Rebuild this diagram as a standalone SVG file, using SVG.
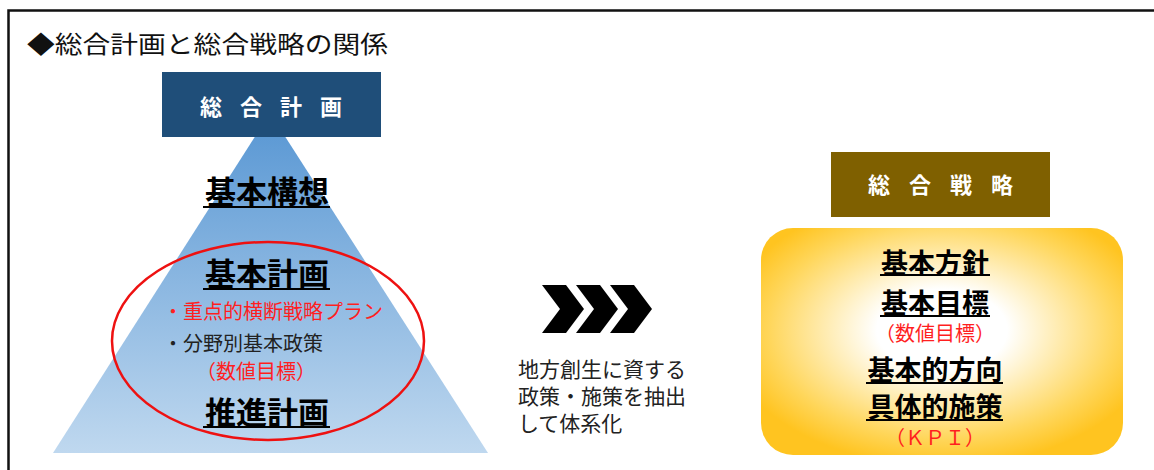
<svg xmlns="http://www.w3.org/2000/svg" width="1154" height="470" viewBox="0 0 1154 470">
<defs>
<style>
text{font-family:"Noto Sans CJK JP","Noto Sans",sans-serif;dominant-baseline:central}
.h{font-size:31px;font-weight:700;fill:#000;text-anchor:middle}
.h2{font-size:27px;font-weight:700;fill:#000;text-anchor:middle}
.s{font-size:20px;fill:#222}
.r{fill:#ff1f1f}
.w{font-size:22px;font-weight:700;fill:#fff;text-anchor:middle}
.ul{stroke:#000;stroke-width:2}
</style>
<linearGradient id="pyr" x1="0" y1="0" x2="0" y2="1">
<stop offset="0" stop-color="#5796d3"/>
<stop offset="1" stop-color="#bfd8ef"/>
</linearGradient>
<radialGradient id="glow" cx="0.5" cy="0.45" r="0.6">
<stop offset="0" stop-color="#ffffff"/>
<stop offset="0.3" stop-color="#ffffff"/>
<stop offset="0.8" stop-color="#ffd65a"/>
<stop offset="1" stop-color="#ffc420"/>
</radialGradient>
<polygon id="chev" points="0,0 24,0 42,24 24,48 0,48 18,24"/>
</defs>
<rect width="1154" height="470" fill="#fff"/>
<path d="M8.5,480 V10.5 H1170" fill="none" stroke="#111" stroke-width="2.5"/>
<text x="27" y="42" font-size="24" fill="#111" textLength="361" lengthAdjust="spacingAndGlyphs">◆総合計画と総合戦略の関係</text>

<g id="pyramid">
<polygon points="270,113 488,453 53,453" fill="url(#pyr)"/>
</g>
<g id="plan-header">
<rect x="162" y="72" width="219" height="65" fill="#1f4e79"/>
<text class="w" x="211,251,291,331" y="105">総合計画</text>
</g>
<g id="kihon-koso">
<text class="h" x="267" y="189">基本構想</text>
<line class="ul" x1="203" y1="207" x2="330" y2="207"/>
</g>
<g id="kihon-keikaku">
<text class="h" x="267" y="271">基本計画</text>
<line class="ul" x1="203" y1="289" x2="330" y2="289"/>
<text class="s r" x="163" y="310">・重点的横断戦略プラン</text>
<text class="s" x="163" y="342">・分野別基本政策</text>
<text class="s r" x="196" y="370" font-size="19">（数値目標）</text>
</g>
<g id="suishin-keikaku">
<text class="h" x="267" y="410">推進計画</text>
<line class="ul" x1="203" y1="427" x2="330" y2="427"/>
</g>
<g id="ellipse">
<ellipse cx="268" cy="341" rx="156" ry="99" fill="none" stroke="#ee1111" stroke-width="2.5"/>
</g>

<g id="connectors">
<use href="#chev" x="542" y="285" fill="#000"/>
<use href="#chev" x="576" y="285" fill="#000"/>
<use href="#chev" x="610" y="285" fill="#000"/>
</g>
<g id="arrow-label">
<text x="518" y="368" font-size="21" fill="#222">地方創生に資する</text>
<text x="518" y="395" font-size="21" fill="#222">政策・施策を抽出</text>
<text x="518" y="422" font-size="21" fill="#222">して体系化</text>
</g>

<g id="strategy-header">
<rect x="831" y="152" width="219" height="65" fill="#7f6000"/>
<text class="w" x="879,920,961,1002" y="183">総合戦略</text>
</g>
<g id="strategy-box">
<rect x="761" y="228" width="362" height="227" rx="32" fill="url(#glow)"/>
<text class="h2" x="935" y="261">基本方針</text>
<line class="ul" x1="880" y1="275" x2="990" y2="275"/>
<text class="h2" x="935" y="301">基本目標</text>
<line class="ul" x1="880" y1="316" x2="990" y2="316"/>
<text class="s r" x="935" y="332" font-size="19" text-anchor="middle">（数値目標）</text>
<text class="h2" x="935" y="368">基本的方向</text>
<line class="ul" x1="866" y1="383" x2="1003" y2="383"/>
<text class="h2" x="935" y="405">具体的施策</text>
<line class="ul" x1="866" y1="420" x2="1003" y2="420"/>
<text class="s r" x="935" y="436" font-size="18" text-anchor="middle">（ＫＰＩ）</text>
</g>
</svg>
